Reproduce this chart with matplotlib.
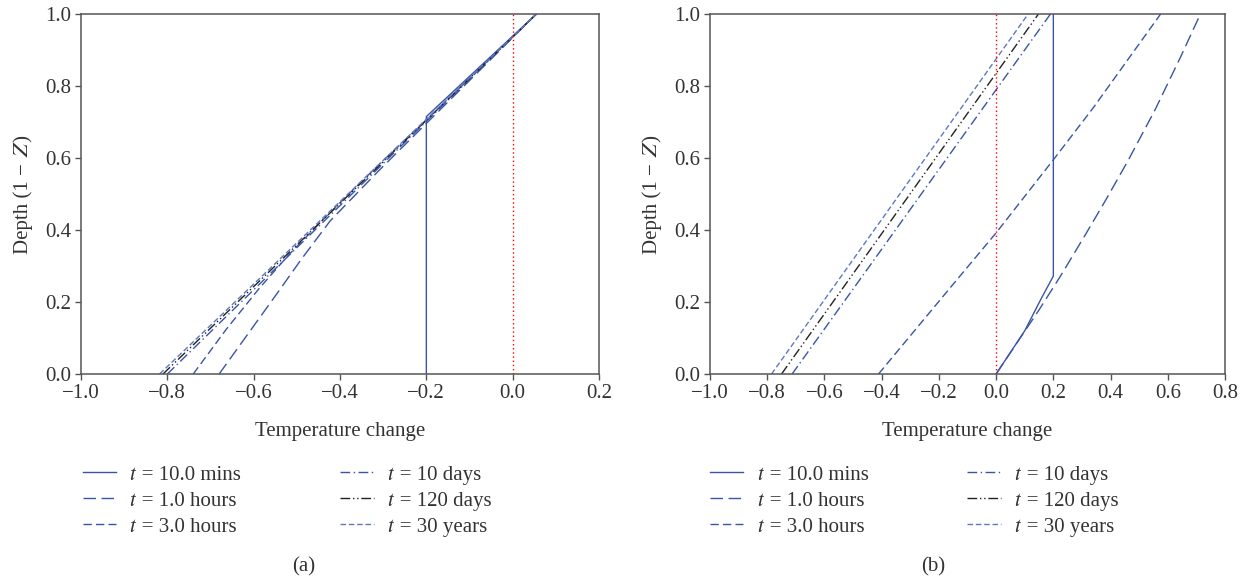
import matplotlib
matplotlib.use("Agg")
import matplotlib.pyplot as plt

# STIXGeneral supplies the italic math letters (U+1D461 t, U+1D44D Z)
plt.rcParams['font.family'] = ['Liberation Serif', 'STIXGeneral', 'DejaVu Serif']
plt.rcParams['font.size'] = 15

labels = ['\U0001D461 = 10.0 mins', '\U0001D461 = 1.0 hours', '\U0001D461 = 3.0 hours',
          '\U0001D461 = 10 days', '\U0001D461 = 120 days', '\U0001D461 = 30 years']

# panel (a): (temperature change, depth) pairs
a_10min_x = [-0.2, -0.2, 0.055]
a_10min_y = [0.0, 0.715, 1.0]
a_1h_x = [-0.68, -0.605, -0.545, -0.49, -0.423, -0.31, -0.205, 0.055]
a_1h_y = [0.0, 0.125, 0.225, 0.318, 0.425, 0.565, 0.69, 1.0]
a_3h_x = [-0.74, -0.663, -0.587, -0.518, -0.44, -0.35, -0.27, -0.205, 0.055]
a_3h_y = [0.0, 0.125, 0.238, 0.332, 0.428, 0.535, 0.627, 0.70, 1.0]
a_10d_x = [-0.80, 0.055]
a_10d_y = [0.0, 1.0]
a_120d_x = [-0.81, 0.055]
a_120d_y = [0.0, 1.0]
a_30y_x = [-0.818, 0.055]
a_30y_y = [0.0, 1.0]

# panel (b)
b_10min_x = [0.0, 0.1, 0.158, 0.2, 0.2]
b_10min_y = [0.0, 0.12, 0.21, 0.272, 1.0]
b_1h_x = [0.0, 0.15, 0.225, 0.315, 0.383, 0.462, 0.555, 0.645, 0.714]
b_1h_y = [0.0, 0.178, 0.272, 0.391, 0.483, 0.594, 0.733, 0.881, 1.0]
b_3h_x = [-0.411, -0.16, 0.0, 0.2, 0.34, 0.575]
b_3h_y = [0.0, 0.24, 0.392, 0.595, 0.74, 1.0]
b_10d_x = [-0.713, 0.19]
b_10d_y = [0.0, 1.0]
b_120d_x = [-0.75, 0.148]
b_120d_y = [0.0, 1.0]
b_30y_x = [-0.785, 0.112]
b_30y_y = [0.0, 1.0]

blue = '#3a54a6'
light = '#5f78c0'
styles = [
    dict(color=blue, ls='-'),
    dict(color=blue, ls=(0, (9, 4))),
    dict(color=blue, ls=(0, (6, 3))),
    dict(color=blue, ls=(0, (7, 2.5, 1, 2.5))),
    dict(color='#222222', ls=(0, (7, 2, 1, 2, 1, 2))),
    dict(color=light, ls=(0, (4, 2))),
]

fig = plt.figure(figsize=(12.48, 5.8), dpi=100)
ax_a = fig.add_axes([81 / 1248, 206 / 580, 518 / 1248, 360 / 580])
ax_b = fig.add_axes([710 / 1248, 206 / 580, 515 / 1248, 360 / 580])

series_a = [(a_10min_x, a_10min_y), (a_1h_x, a_1h_y), (a_3h_x, a_3h_y),
            (a_10d_x, a_10d_y), (a_120d_x, a_120d_y), (a_30y_x, a_30y_y)]
series_b = [(b_10min_x, b_10min_y), (b_1h_x, b_1h_y), (b_3h_x, b_3h_y),
            (b_10d_x, b_10d_y), (b_120d_x, b_120d_y), (b_30y_x, b_30y_y)]

for ax, series, xlim, xticks, leg_x, cap_x, cap in [
        (ax_a, series_a, (-1.0, 0.2), [-1.0, -0.8, -0.6, -0.4, -0.2, 0.0, 0.2], 83, 304, '(a)'),
        (ax_b, series_b, (-1.0, 0.8), [-1.0, -0.8, -0.6, -0.4, -0.2, 0.0, 0.2, 0.4, 0.6, 0.8], 710, 933, '(b)')]:
    handles = []
    for (xs, ys), st, lab in zip(series, styles, labels):
        h, = ax.plot(xs, ys, lw=1.0, label=lab, **st)
        handles.append(h)
    ax.axvline(0.0, color='red', ls=(0, (1, 2)), lw=1.0)
    ax.set_xlim(*xlim)
    ax.set_ylim(0, 1.0)
    ax.set_xticks(xticks)
    ax.set_xticklabels(['%.1f' % v if v >= 0 else '\u2212%.1f' % -v for v in xticks])
    ax.set_yticks([0, 0.2, 0.4, 0.6, 0.8, 1.0])
    ax.set_yticklabels(['0.0', '0.2', '0.4', '0.6', '0.8', '1.0'])
    for sp in ax.spines.values():
        sp.set_color('#555555')
        sp.set_linewidth(1.1)
    ax.tick_params(direction='out', length=4, width=1.0, color='#555555',
                   labelcolor='#333333', labelsize=15, pad=3)
    ax.set_xlabel('Temperature change', color='#333333', fontsize=15, labelpad=14)
    ax.set_ylabel('Depth (1 \u2212 \U0001D44D)', color='#333333', fontsize=15, labelpad=9)
    leg = ax.legend(handles=handles, ncol=2, loc='upper left',
                    bbox_to_anchor=(leg_x / 1248, 1 - 465 / 580),
                    bbox_transform=fig.transFigure, frameon=False,
                    borderpad=0, borderaxespad=0, handlelength=1.6,
                    handletextpad=0.68, columnspacing=4.75, labelspacing=0.31,
                    fontsize=15)
    for t in leg.get_texts():
        t.set_color('#333333')
    fig.text(cap_x / 1248, 1 - 567 / 580, cap, ha='center', va='center',
             fontsize=15, color='#333333')

fig.savefig('out.png', dpi=100)
